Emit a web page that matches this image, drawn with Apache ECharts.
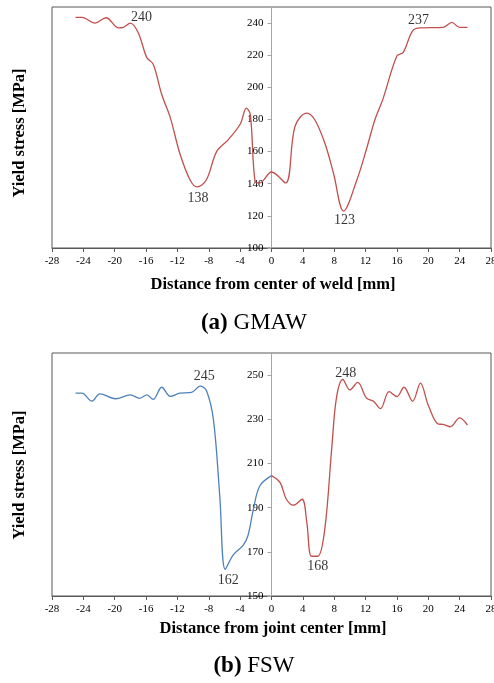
<!DOCTYPE html>
<html>
<head>
<meta charset="utf-8">
<script src="https://cdn.jsdelivr.net/npm/echarts@6/dist/echarts.min.js"></script>
<style>
  html, body { margin: 0; padding: 0; background: #fff; }
  #chart { width: 494px; height: 683px; }
</style>
</head>
<body>
<div id="chart"></div>
<script>
// (a) GMAW yield stress profile across the weld
const gmawX = [-25, -24.2, -22.5, -21.1, -19.5, -18.9, -18, -17, -15.9, -15.1, -14, -12.9, -11.7, -10.4, -9.5, -8.3, -7, -5.5, -4, -3.2, -2.7, -2.1, -1.5, 0, 1.8, 3, 4.5, 5.5, 6.8, 7.9, 9.2, 10.9, 12.1, 13.2, 14.2, 16, 16.8, 18, 19, 21.9, 23, 24, 25];
const gmawY = [243.5, 243.5, 240, 243.3, 237, 237.3, 240, 234, 218.5, 214.5, 195.5, 181, 159, 142.5, 138, 142.5, 160, 167.5, 177, 187, 183, 141.5, 140.5, 147.3, 140.5, 175.8, 184, 180, 165.4, 146.7, 123, 142.5, 161.3, 180, 192.5, 219.6, 221.7, 235.2, 237, 237.3, 240.4, 237.3, 237.3];
const gmawNoted = [6, 14, 30, 38];

// (b) FSW yield stress profile: retreating side (blue) and advancing side (red)
const fswLeftX = [-25, -24.2, -22.9, -21.9, -19.9, -18, -16.8, -15.9, -15.1, -14, -12.9, -11.7, -10.2, -9.1, -8.3, -7.4, -6.6, -5.9, -4.9, -3.6, -3, -2.3, -1.5, 0];
const fswLeftY = [241.8, 241.8, 238.2, 241.5, 239.3, 241, 239.5, 241, 239, 244.5, 240.4, 241.8, 242.2, 245, 243, 229.6, 195.3, 162, 168.5, 173, 177.4, 189.4, 199.8, 204.5];
const fswLeftNoted = [13, 17];
const fswRightX = [0, 1.1, 1.9, 2.8, 3.9, 4.5, 5.1, 5.9, 6.8, 7.7, 8.3, 9.1, 10, 11, 12.1, 13, 13.9, 15, 16, 16.9, 18, 19, 20, 21.3, 21.9, 22.8, 24, 25];
const fswRightY = [204.5, 201.3, 193.8, 191.1, 193.8, 183.4, 168, 168, 180.4, 217.6, 240, 248, 243.3, 246.7, 239.7, 238.2, 234.8, 242.5, 240.3, 244.5, 238.1, 246.4, 236.3, 227.8, 227.7, 226.6, 230.6, 227.3];
const fswRightNoted = [7, 11];

// Axis ranges (ticks every 4 mm and every 20 MPa)
const xRange = [-28, 28];
const gmawYRange = [100, 250];
const fswYRange = [150, 260];

const SERIF = '"Liberation Serif", "Times New Roman", serif';
const RED = '#C0504D';
const BLUE = '#4F81BD';
const FRAME = '#595959';
const ZERO_LINE = '#a6a6a6';

// Plot area shared by both panels
const GRID_LEFT = 52;
const GRID_RIGHT = 3;
const PLOT_WIDTH = 494 - GRID_LEFT - GRID_RIGHT;
// Shift the value axis from the left edge to x = 0 (middle of a symmetric range)
const ZERO_SHIFT = -PLOT_WIDTH * (0 - xRange[0]) / (xRange[1] - xRange[0]);

// Label placement relative to each annotated point, in order of the *Noted arrays
const gmawLabelOffsets = [[11, -6], [1, 11], [1, 9], [-2, -8]];
const fswLeftLabelOffsets = [[4, -10], [3, 11]];
const fswRightLabelOffsets = [[0, 10], [3, -6]];

function pairs(xs, ys) {
  return xs.map((x, i) => [x, ys[i]]);
}

function notes(xs, ys, idx, offsets) {
  return idx.map((i, k) => ({
    value: [xs[i], ys[i]],
    label: { offset: offsets[k] }
  }));
}

function xAxisFor(gridIndex) {
  return {
    type: 'value', gridIndex: gridIndex,
    min: xRange[0], max: xRange[1], interval: 4,
    axisLine: { show: true, onZero: false, lineStyle: { color: FRAME, width: 1 } },
    axisTick: { show: true, inside: false, length: 4, lineStyle: { color: FRAME } },
    axisLabel: { fontFamily: SERIF, fontSize: 11, color: '#000', margin: 8, hideOverlap: false },
    splitLine: { show: false }
  };
}

function yAxisFor(gridIndex, range) {
  return {
    type: 'value', gridIndex: gridIndex, position: 'left', offset: ZERO_SHIFT,
    min: range[0], max: range[1], interval: 20,
    axisLine: { show: true, onZero: false, lineStyle: { color: ZERO_LINE, width: 1 } },
    axisTick: { show: true, inside: false, length: 4, lineStyle: { color: ZERO_LINE } },
    axisLabel: { fontFamily: SERIF, fontSize: 11, color: '#000', margin: 8, showMaxLabel: false, hideOverlap: false },
    splitLine: { show: false }
  };
}

function lineSeries(idx, data, color) {
  return {
    type: 'line', xAxisIndex: idx, yAxisIndex: idx,
    data: data, smooth: 0.35, showSymbol: false, symbol: 'none',
    lineStyle: { color: color, width: 1.3 },
    itemStyle: { color: color },
    silent: true, z: 3
  };
}

function noteSeries(idx, data) {
  return {
    type: 'scatter', xAxisIndex: idx, yAxisIndex: idx,
    data: data, symbolSize: 1,
    itemStyle: { color: 'rgba(0,0,0,0)' },
    label: {
      show: true, position: 'inside',
      fontFamily: SERIF, fontSize: 14, color: '#000',
      formatter: p => String(p.value[1])
    },
    silent: true, z: 4
  };
}

const chart = echarts.init(document.getElementById('chart'), null, { renderer: 'canvas' });

chart.setOption({
  animation: false,
  backgroundColor: '#fff',
  grid: [
    { left: GRID_LEFT, right: GRID_RIGHT, top: 7, bottom: 435, show: true, borderColor: FRAME, borderWidth: 1,
      backgroundColor: 'transparent', containLabel: false, outerBoundsMode: 'none' },
    { left: GRID_LEFT, right: GRID_RIGHT, top: 353, bottom: 87, show: true, borderColor: FRAME, borderWidth: 1,
      backgroundColor: 'transparent', containLabel: false, outerBoundsMode: 'none' }
  ],
  xAxis: [xAxisFor(0), xAxisFor(1)],
  yAxis: [yAxisFor(0, gmawYRange), yAxisFor(1, fswYRange)],
  series: [
    lineSeries(0, pairs(gmawX, gmawY), RED),
    noteSeries(0, notes(gmawX, gmawY, gmawNoted, gmawLabelOffsets)),
    lineSeries(1, pairs(fswLeftX, fswLeftY), BLUE),
    lineSeries(1, pairs(fswRightX, fswRightY), RED),
    noteSeries(1, notes(fswLeftX, fswLeftY, fswLeftNoted, fswLeftLabelOffsets)
      .concat(notes(fswRightX, fswRightY, fswRightNoted, fswRightLabelOffsets)))
  ],
  graphic: [
    { type: 'text', x: 20, y: 133, rotation: Math.PI / 2,
      style: { text: 'Yield stress [MPa]', font: 'bold 16.5px ' + SERIF, fill: '#000', align: 'center', verticalAlign: 'middle' } },
    { type: 'text', x: 20, y: 475, rotation: Math.PI / 2,
      style: { text: 'Yield stress [MPa]', font: 'bold 16.5px ' + SERIF, fill: '#000', align: 'center', verticalAlign: 'middle' } },
    { type: 'text', x: 273, y: 285,
      style: { text: 'Distance from center of weld [mm]', font: 'bold 16.5px ' + SERIF, fill: '#000', align: 'center', verticalAlign: 'middle' } },
    { type: 'text', x: 273, y: 629,
      style: { text: 'Distance from joint center [mm]', font: 'bold 16.5px ' + SERIF, fill: '#000', align: 'center', verticalAlign: 'middle' } },
    { type: 'text', x: 254, y: 323,
      style: { text: '{b|(a)} GMAW', font: '23px ' + SERIF, fill: '#000', align: 'center', verticalAlign: 'middle',
        rich: { b: { fontWeight: 'bold', fontSize: 23, fontFamily: SERIF } } } },
    { type: 'text', x: 254, y: 666,
      style: { text: '{b|(b)} FSW', font: '23px ' + SERIF, fill: '#000', align: 'center', verticalAlign: 'middle',
        rich: { b: { fontWeight: 'bold', fontSize: 23, fontFamily: SERIF } } } }
  ]
});
</script>
</body>
</html>
